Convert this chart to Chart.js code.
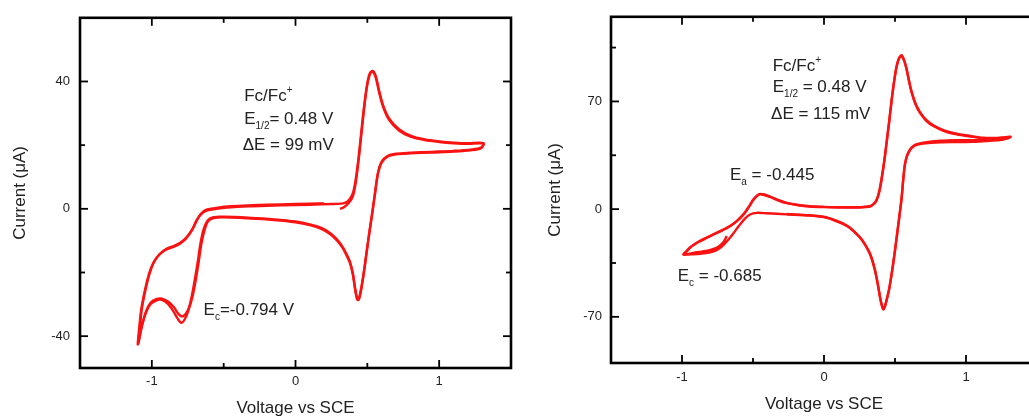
<!DOCTYPE html>
<html>
<head>
<meta charset="utf-8">
<script src="https://cdn.jsdelivr.net/npm/chart.js@4.4.0/dist/chart.umd.min.js"></script>
<style>
html,body{margin:0;padding:0;background:#fff;overflow:hidden;width:1029px;height:417px;}
#wrapL{position:absolute;left:0;top:0;width:520px;height:417px;}
#wrapR{position:absolute;left:530px;top:0;width:520px;height:417px;}
</style>
</head>
<body>
<div id="wrapL"><canvas id="cL" width="520" height="417"></canvas></div>
<div id="wrapR"><canvas id="cR" width="520" height="417"></canvas></div>
<script>
// ---------- DATA: [potential (V vs SCE), current (µA)] ----------
const leftCycle1 = [
 [0.31,0.0],[0.34,0.6],[0.37,1.8],[0.40,4.0],[0.42,8.5],[0.44,15.5],[0.46,24],[0.48,32.5],[0.50,39],[0.52,42.5],[0.54,43.3],[0.56,41.5],[0.58,37.5],[0.61,32.5],[0.65,28.5],[0.72,25],[0.80,23],[0.90,21.8],[1.00,21.2],[1.10,20.8],[1.20,20.6],[1.28,20.8],[1.31,20.6],
 [1.29,19.2],[1.22,18.6],[1.10,18.2],[0.95,17.9],[0.80,17.6],[0.70,17.3],[0.64,16.6],[0.60,14.8],[0.575,11.5],[0.555,5.5],[0.535,-1],[0.515,-7],[0.495,-13.5],[0.475,-20],[0.455,-25.5],[0.44,-28.3],[0.43,-28.3],[0.415,-25],[0.40,-20.5],[0.38,-16.8],[0.35,-13.8],[0.32,-11.4],[0.28,-9.2],[0.24,-7.6],[0.18,-6.0],[0.10,-4.9],[0.00,-4.0],[-0.15,-3.3],[-0.33,-2.8],[-0.50,-2.5],[-0.57,-2.6],[-0.61,-3.6],[-0.64,-6.5],[-0.66,-10.5],[-0.68,-16.5],[-0.70,-22],[-0.72,-27],[-0.745,-31.8],[-0.77,-34.6],[-0.795,-35.8],[-0.82,-34.5],[-0.85,-32.2],[-0.89,-29.8],[-0.93,-28.6],[-0.97,-28.8],[-1.01,-30],[-1.04,-32.5],[-1.07,-37],[-1.09,-41.5],[-1.098,-42.6],
 [-1.09,-38.5],[-1.075,-32],[-1.05,-26],[-1.02,-20.5],[-0.99,-17],[-0.95,-14.5],[-0.90,-12.8],[-0.85,-12],[-0.80,-10.8],[-0.76,-9.2],[-0.72,-6.6],[-0.69,-3.8],[-0.66,-1.8],[-0.62,-0.6],[-0.55,0],[-0.45,0.5],[-0.30,0.8],[-0.10,1.1],[0.10,1.3],[0.25,1.5],[0.33,1.7],[0.36,2.2]
];
const leftCycle2 = [
 [0.36,2.2],[0.38,3.2],[0.40,5.0],[0.42,9.5],[0.44,16.5],[0.46,25],[0.48,33],[0.50,39.5],[0.52,42.8],[0.54,43.0],[0.56,41],[0.58,37],[0.61,32],[0.65,28],[0.72,24.6],[0.80,22.7],[0.90,21.6],[1.00,21.0],[1.10,20.6],[1.20,20.4],[1.28,20.6],[1.31,20.4],
 [1.29,19.0],[1.22,18.4],[1.10,18.0],[0.95,17.7],[0.80,17.4],[0.70,17.1],[0.64,16.4],[0.60,14.6],[0.575,11.3],[0.555,5.3],[0.535,-1.2],[0.515,-7.3],[0.495,-13.8],[0.475,-20.4],[0.455,-26],[0.44,-28.6],[0.43,-28.5],[0.415,-25.3],[0.40,-20.8],[0.38,-17.1],[0.35,-14.1],[0.32,-11.7],[0.28,-9.5],[0.24,-7.9],[0.18,-6.3],[0.10,-5.1],[0.00,-4.2],[-0.15,-3.5],[-0.33,-3.0],[-0.50,-2.7],[-0.57,-2.9],[-0.61,-4.0],[-0.635,-7],[-0.655,-11],[-0.675,-17],[-0.695,-22.5],[-0.715,-27.2],[-0.74,-31],[-0.765,-33],[-0.79,-33.8],[-0.815,-33],[-0.845,-31],[-0.885,-29.2],[-0.93,-28.2],[-0.97,-28.4],[-1.01,-29.6],[-1.04,-32.2],[-1.07,-36.8],[-1.09,-41.2],[-1.095,-42.2],
 [-1.085,-38],[-1.07,-31.6],[-1.045,-25.6],[-1.015,-20.2],[-0.985,-16.7],[-0.945,-14.2],[-0.895,-12.5],[-0.845,-11.6],[-0.795,-10.4],[-0.755,-8.8],[-0.715,-6.2],[-0.685,-3.4],[-0.655,-1.4],[-0.615,-0.2],[-0.55,0.3],[-0.45,0.8],[-0.30,1.1],[-0.10,1.4],[0.10,1.6],[0.20,1.7]
];
const rightCycle1 = [
 [-0.685,-17.4],[-0.70,-20.3],[-0.72,-22.6],[-0.75,-24.8],[-0.80,-26.5],[-0.86,-27.6],[-0.92,-28.4],[-0.99,-29.5],
 [-0.965,-27.0],[-0.944,-24.9],[-0.91,-22.6],[-0.873,-20.6],[-0.83,-18.6],[-0.779,-16.3],[-0.72,-13.8],[-0.662,-10.9],[-0.615,-7.8],[-0.568,-3.4],[-0.53,1.5],[-0.498,6.2],[-0.47,8.9],[-0.451,9.9],[-0.42,9.5],[-0.38,8.2],[-0.32,5.9],[-0.263,4.1],[-0.18,2.7],[-0.099,1.9],[0.0,1.5],[0.1,1.3],[0.254,1.3],[0.324,1.9],[0.35,3.5],[0.371,6.2],[0.39,12],[0.406,20.2],[0.425,32],[0.441,43.8],[0.46,58],[0.477,71.7],[0.495,84],[0.512,93.2],[0.53,98.5],[0.547,100],[0.565,96.5],[0.582,91],[0.60,83],[0.618,76],[0.645,68.5],[0.676,63.1],[0.72,58],[0.77,54.5],[0.85,51],[0.934,49.1],[1.03,47.6],[1.122,46.4],[1.22,46.3],[1.28,46.8],[1.315,47.0],
 [1.28,45.6],[1.24,44.9],[1.15,44.3],[1.05,43.8],[0.93,43.6],[0.82,43.4],[0.70,42.6],[0.653,41.7],[0.625,40.3],[0.606,38.4],[0.585,34.5],[0.57,28.8],[0.558,19],[0.547,7.3],[0.53,-5.5],[0.512,-18.5],[0.495,-30.5],[0.477,-42],[0.46,-51.5],[0.441,-59.2],[0.428,-63.5],[0.418,-65.2],[0.408,-63],[0.394,-57.1],[0.377,-48],[0.359,-39.9],[0.335,-32],[0.312,-27],[0.27,-20.5],[0.23,-16.3],[0.17,-11.5],[0.113,-8.8],[0.019,-5.6],[-0.1,-4.2],[-0.263,-3.4],[-0.4,-2.7],[-0.474,-2.4],[-0.521,-3.5],[-0.56,-6.5],[-0.60,-11],[-0.64,-16],[-0.68,-20.5],[-0.72,-24.3],[-0.76,-26.8],[-0.81,-28.3],[-0.87,-29.0],[-0.93,-29.4],[-0.99,-29.7]
];
const rightCycle2 = [
 [-0.99,-29.7],[-0.965,-27.3],[-0.944,-25.2],[-0.91,-22.9],[-0.873,-20.9],[-0.83,-18.9],[-0.779,-16.6],[-0.72,-14.0],[-0.662,-11.1],[-0.615,-8.0],[-0.568,-3.7],[-0.53,1.2],[-0.498,5.9],[-0.47,8.6],[-0.451,9.6],[-0.42,9.2],[-0.38,7.9],[-0.32,5.6],[-0.263,3.9],[-0.18,2.5],[-0.099,1.7],[0.0,1.3],[0.1,1.1],[0.254,1.1],[0.324,1.7],[0.35,3.2],[0.371,5.8],[0.39,11.5],[0.406,19.5],[0.425,31.2],[0.441,43],[0.46,57.2],[0.477,71],[0.495,83.5],[0.512,92.8],[0.53,98.2],[0.547,99.6],[0.565,96.3],[0.582,90.7],[0.60,82.6],[0.618,75.5],[0.645,68],[0.676,62.5],[0.72,57.4],[0.77,54],[0.85,50.5],[0.934,48.6],[1.03,47.2],[1.122,46.1],[1.22,46.0],[1.28,46.5],[1.31,46.6],
 [1.28,45.9],[1.24,45.4],[1.15,45.0],[1.05,44.8],[0.93,44.8],[0.82,44.4],[0.70,43.2],[0.653,42.2],[0.625,40.8],[0.606,38.8],[0.585,35],[0.57,29.3],[0.558,19.6],[0.547,7.9],[0.53,-5],[0.512,-18],[0.495,-30],[0.477,-41.6],[0.46,-51.2],[0.441,-59],[0.428,-63.3],[0.418,-65],[0.408,-62.6],[0.394,-56.7],[0.377,-47.6],[0.359,-39.5],[0.335,-31.6],[0.312,-26.6],[0.27,-20.2],[0.23,-16.0],[0.17,-11.2],[0.113,-8.5],[0.019,-5.4],[-0.1,-4.0],[-0.263,-3.2]
];

// tick values
const xMajorTicks = [-1, 0, 1];
const xMinorTicks = [-0.5, 0.5];
const leftYMajor = [-40, 0, 40];
const leftYMinor = [-20, 20];
const rightYMajor = [-70, 0, 70];
const rightYMinor = [-35, 35, 105];

// axis labels and annotation texts
const xTitle = 'Voltage vs SCE';
const yTitle = 'Current (\u03BCA)';
const leftNotes = [
  {x:-0.357, y:34.0, runs:[['Fc/Fc','n'],['+','sup']]},
  {x:-0.357, y:26.7, runs:[['E','n'],['1/2','sub'],['= 0.48 V','n']]},
  {x:-0.368, y:18.4, runs:[['\u0394E = 99 mV','n']]},
  {x:-0.640, y:-33.2, runs:[['E','n'],['c','sub'],['=-0.794 V','n']]}
];
const rightNotes = [
  {x:-0.361, y:90.0, runs:[['Fc/Fc','n'],['+','sup']]},
  {x:-0.361, y:76.0, runs:[['E','n'],['1/2','sub'],[' = 0.48 V','n']]},
  {x:-0.373, y:58.4, runs:[['\u0394E = 115 mV','n']]},
  {x:-0.662, y:19.1, runs:[['E','n'],['a','sub'],[' = -0.445','n']]},
  {x:-1.030, y:-46.8, runs:[['E','n'],['c','sub'],[' = -0.685','n']]}
];

// ---------- STYLE ----------
const FONT = '"Liberation Sans", Arial, Helvetica, sans-serif';
const RED = 'rgb(250,18,18)';
const INK = '#222';

const framePlugin = {
  id: 'frameTicks',
  afterDatasetsDraw(chart, args, opts) {
    const {ctx, chartArea: a, scales: {x, y}} = chart;
    ctx.save();
    ctx.strokeStyle = '#000';
    ctx.lineWidth = 1.8;
    const line = (x1, y1, x2, y2) => { ctx.beginPath(); ctx.moveTo(x1, y1); ctx.lineTo(x2, y2); ctx.stroke(); };
    const marks = (scale, vals, len) => vals.forEach(v => {
      const p = scale.getPixelForValue(v);
      if (scale.isHorizontal()) { line(p, a.bottom, p, a.bottom - len); line(p, a.top, p, a.top + len); }
      else { line(a.left, p, a.left + len, p); line(a.right, p, a.right - len, p); }
    });
    marks(x, x.ticks.map(t => t.value), 8);
    marks(x, opts.xMinor, 5);
    marks(y, y.ticks.map(t => t.value), 8);
    marks(y, opts.yMinor, 5);
    ctx.lineWidth = 2.6;
    ctx.strokeRect(a.left, a.top, a.right - a.left, a.bottom - a.top);
    ctx.restore();
  }
};

const notesPlugin = {
  id: 'notes',
  afterDraw(chart, args, opts) {
    const {ctx, scales: {x, y}} = chart;
    ctx.save();
    ctx.fillStyle = INK;
    ctx.textBaseline = 'alphabetic';
    ctx.textAlign = 'left';
    opts.items.forEach(n => {
      let px = x.getPixelForValue(n.x);
      const py = y.getPixelForValue(n.y);
      n.runs.forEach(([t, kind]) => {
        let dy = 0;
        if (kind === 'n') ctx.font = '17px ' + FONT;
        else if (kind === 'sub') { ctx.font = '10px ' + FONT; dy = 5; }
        else { ctx.font = '10px ' + FONT; dy = -8; }
        ctx.fillText(t, px, py + dy);
        px += ctx.measureText(t).width;
      });
    });
    ctx.restore();
  }
};

function toPts(arr) { return arr.map(([v, i]) => ({x: v, y: i})); }

function makeChart(id, c) {
  return new Chart(document.getElementById(id), {
    type: 'scatter',
    data: {
      datasets: c.cycles.map(cy => ({
        data: toPts(cy), showLine: true, borderColor: RED, borderWidth: 2.4,
        pointRadius: 0, tension: 0.3, fill: false
      }))
    },
    options: {
      responsive: false, animation: false, events: [],
      layout: {padding: {top: 14, right: c.padRight, left: 0, bottom: 0}},
      plugins: {
        legend: {display: false}, tooltip: {enabled: false},
        frameTicks: {xMinor: xMinorTicks, yMinor: c.yMinor},
        notes: {items: c.notes}
      },
      scales: {
        x: {
          type: 'linear', min: -1.5, max: 1.5,
          afterBuildTicks: ax => { ax.ticks = xMajorTicks.map(v => ({value: v})); },
          afterFit: ax => { ax.height = c.xH; },
          grid: {display: false, drawTicks: false}, border: {display: false},
          ticks: {font: {family: FONT, size: 13}, color: INK, padding: c.xTickPad, maxRotation: 0},
          title: {display: true, text: xTitle, color: INK, font: {family: FONT, size: 17, lineHeight: 1}, padding: {top: 0, bottom: c.xTitlePad}}
        },
        y: {
          type: 'linear', min: c.yMin, max: c.yMax,
          afterBuildTicks: ax => { ax.ticks = c.yMajor.map(v => ({value: v})); },
          afterFit: ax => { ax.width = c.yW; },
          grid: {display: false, drawTicks: false}, border: {display: false},
          ticks: {font: {family: FONT, size: 13}, color: INK, padding: c.yTickPad},
          title: {display: true, text: yTitle, color: INK, font: {family: FONT, size: 17, lineHeight: 1}, padding: {top: c.yTitlePad, bottom: 0}}
        }
      }
    },
    plugins: [framePlugin, notesPlugin]
  });
}

makeChart('cL', {
  cycles: [leftCycle1, leftCycle2], yMin: -50, yMax: 60,
  yMajor: leftYMajor, yMinor: leftYMinor, notes: leftNotes,
  padRight: 9, xH: 49, yW: 80, xTickPad: 6, yTickPad: 10, xTitlePad: 0, yTitlePad: 12
});
makeChart('cR', {
  cycles: [rightCycle1, rightCycle2], yMin: -100, yMax: 125,
  yMajor: rightYMajor, yMinor: rightYMinor, notes: rightNotes,
  padRight: 13, xH: 54, yW: 81, xTickPad: 7, yTickPad: 9, xTitlePad: 4, yTitlePad: 17
});
</script>
</body>
</html>
